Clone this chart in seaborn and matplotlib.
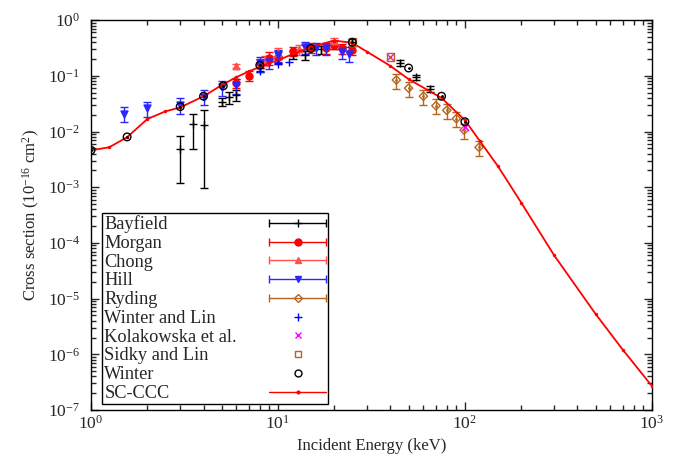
import matplotlib
matplotlib.use("Agg")
import matplotlib.pyplot as plt
import seaborn as sns
import numpy as np
from matplotlib.lines import Line2D
from matplotlib.legend_handler import HandlerBase

# SC-CCC theory curve
ccc_E = [1, 1.25, 1.56, 2, 2.5, 3, 4, 5, 6, 7, 8, 9, 10, 12.5, 15, 20, 25, 30, 40, 50, 75, 100, 120, 150, 200, 300, 500, 700, 1000]
ccc_s = [4.6e-3, 5.2e-3, 7.9e-3, 0.0167, 0.023, 0.027, 0.043, 0.068, 0.095, 0.12, 0.145, 0.17, 0.19, 0.26, 0.33, 0.43, 0.39, 0.27, 0.15, 0.087, 0.04, 0.016, 6.8e-3, 2.4e-3, 5.3e-4, 6e-5, 5.3e-6, 1.2e-6, 2.7e-7]

# experiments
bay_E = [3, 3.5, 4, 5, 5.5, 6, 8, 10, 12, 14, 17, 20, 25, 45, 55, 65]
bay_s = [4.8e-3, 0.0136, 0.013, 0.034, 0.041, 0.045, 0.14, 0.20, 0.24, 0.235, 0.30, 0.36, 0.40, 0.17, 0.095, 0.058]
bay_lo = [1.2e-3, 4.8e-3, 9.6e-4, 0.029, 0.031, 0.035, 0.115, 0.17, 0.20, 0.19, 0.25, 0.30, 0.35, 0.15, 0.085, 0.052]
bay_hi = [8.3e-3, 0.021, 0.024, 0.040, 0.051, 0.056, 0.17, 0.23, 0.28, 0.28, 0.35, 0.42, 0.45, 0.19, 0.105, 0.065]

mor_E = [6, 7, 8, 9, 10, 12, 15, 18, 20, 22, 25]
mor_s = [0.075, 0.10, 0.17, 0.21, 0.22, 0.28, 0.32, 0.31, 0.36, 0.31, 0.29]
mor_rel = [0.18, 0.2, 0.2, 0.25, 0.25, 0.2, 0.2, 0.2, 0.15, 0.2, 0.2]

cho_E = [6, 8.5, 10, 13, 20]
cho_s = [0.15, 0.19, 0.26, 0.30, 0.42]
cho_rel = [0.08, 0.2, 0.2, 0.2, 0.15]

hil_E = [1.5, 2, 3, 4, 5, 6, 8, 9, 10, 14, 16, 18, 22, 24]
hil_s = [0.021, 0.026, 0.030, 0.042, 0.063, 0.068, 0.17, 0.18, 0.235, 0.33, 0.31, 0.31, 0.27, 0.25]
hil_rel = [0.3, 0.3, 0.32, 0.3, 0.3, 0.3, 0.3, 0.25, 0.25, 0.25, 0.25, 0.25, 0.25, 0.3]

ryd_E = [43, 50, 60, 70, 80, 90, 99, 119]
ryd_s = [0.084, 0.06, 0.043, 0.029, 0.024, 0.017, 0.0106, 5.2e-3]
ryd_rel = [0.3, 0.3, 0.3, 0.3, 0.3, 0.3, 0.3, 0.3]

wl_E = [8, 10, 11.5]
wl_s = [0.12, 0.16, 0.18]

kol_E = [40, 100]
kol_s = [0.22, 0.012]

sid_E = [25, 40]
sid_s = [0.40, 0.22]

win_E = [1, 1.56, 3, 4, 5.1, 8, 15, 25, 50, 75, 100]
win_s = [4.6e-3, 8e-3, 0.028, 0.043, 0.066, 0.155, 0.31, 0.40, 0.138, 0.043, 0.015]

brown = "#b5651d"
chong_red = "#ff5050"
hill_blue = "#2828ff"
sns.set_style("ticks")
plt.rcParams["font.family"] = ["Liberation Serif", "DejaVu Serif"]
plt.rcParams["mathtext.fontset"] = "custom"
plt.rcParams["mathtext.rm"] = "Liberation Serif"
plt.rcParams["mathtext.it"] = "Liberation Serif:italic"

fig = plt.figure(figsize=(6.79, 4.68), dpi=100)
ax = fig.add_axes([0.134, 0.124, 0.826, 0.833])


def ebar(E, s, lo, hi, color, marker, ms, mfc=None):
    E = np.array(E); s = np.array(s)
    err = [s - np.array(lo), np.array(hi) - s]
    ax.errorbar(E, s, yerr=err, fmt="none", ecolor=color, elinewidth=1, capsize=3, capthick=1, zorder=3)
    sns.scatterplot(x=E, y=s, marker=marker, s=ms, color=color, edgecolor=color,
                    facecolor=mfc if mfc else color, linewidth=1, ax=ax, zorder=4)


def rel(s, r):
    s = np.array(s); r = np.array(r)
    return s * (1 - r), s * (1 + r)


sns.lineplot(x=ccc_E, y=ccc_s, color="red", lw=1.3, marker="o", markersize=2.5, markeredgewidth=0, ax=ax, zorder=5)

ebar(bay_E, bay_s, bay_lo, bay_hi, "black", "+", 30)
lo, hi = rel(mor_s, mor_rel)
ebar(mor_E, mor_s, lo, hi, "red", "o", 25)
lo, hi = rel(cho_s, cho_rel)
ebar(cho_E, cho_s, lo, hi, chong_red, "^", 22)
lo, hi = rel(hil_s, hil_rel)
ebar(hil_E, hil_s, lo, hi, hill_blue, "v", 25)
lo, hi = rel(ryd_s, ryd_rel)
ebar(ryd_E, ryd_s, lo, hi, brown, "D", 18, mfc="none")
ax.scatter(ryd_E, ryd_s, marker=".", s=4, color=brown, zorder=5)

ax.scatter(wl_E, wl_s, marker="+", s=35, color="blue", linewidths=1, zorder=6)
ax.scatter(kol_E, kol_s, marker="x", s=25, color="magenta", linewidths=1, zorder=6)
ax.scatter(sid_E, sid_s, marker="s", s=30, facecolors="none", edgecolors=brown, linewidths=1, zorder=6)
ax.scatter(sid_E, sid_s, marker=".", s=4, color=brown, zorder=6)
ax.scatter(win_E, win_s, marker="o", s=30, facecolors="none", edgecolors="black", linewidths=1, zorder=6)
ax.scatter(win_E, win_s, marker=".", s=4, color="black", zorder=6)

ax.set_xscale("log")
ax.set_yscale("log")
ax.set_xlim(1, 1000)
ax.set_ylim(1e-7, 1)
ax.set_xlabel("Incident Energy (keV)", fontsize=12)
ax.set_ylabel("Cross section (10$^{-16}$ cm$^{2}$)", fontsize=12)
ax.tick_params(which="both", direction="in", top=True, right=True, labelsize=12.5, width=1)
ax.tick_params(which="major", length=6)
ax.tick_params(which="minor", length=3.5)
ax.tick_params(axis="y", which="major", pad=8)
ax.yaxis.set_major_locator(matplotlib.ticker.LogLocator(base=10, numticks=20))
ax.yaxis.set_minor_locator(matplotlib.ticker.LogLocator(base=10, subs=np.arange(2, 10), numticks=20))
for sp in ax.spines.values():
    sp.set_linewidth(1)
    sp.set_color("black")


class GnuKey(HandlerBase):
    # gnuplot-like key sample: line with caps at both ends, point in the middle
    def create_artists(self, legend, orig, xdescent, ydescent, width, height, fontsize, trans):
        y = height / 2 - ydescent
        x0, x1 = -xdescent, width - xdescent
        col = orig.get_color()
        arts = []
        if orig.get_linestyle() not in ("None", "none", ""):
            arts.append(Line2D([x0, x1], [y, y], color=col, lw=1))
            if orig.get_label() == "bar":
                arts.append(Line2D([x0, x1], [y, y], marker="|", ms=6, color=col, mew=1, ls="none"))
        arts.append(Line2D([(x0 + x1) / 2], [y], marker=orig.get_marker(), ms=orig.get_markersize(), color=col,
                           mfc=orig.get_markerfacecolor(), mew=1, ls="none"))
        for a in arts:
            a.set_transform(trans)
        return arts


def h(color, marker, ms, bar=True, mfc=None, ls="-"):
    return Line2D([], [], color=color, marker=marker, ms=ms, mfc=mfc if mfc else color,
                  ls=ls, label="bar" if bar else "nobar")


handles = [
    h("black", "+", 6),
    h("red", "o", 5),
    h(chong_red, "^", 4.5),
    h(hill_blue, "v", 5),
    h(brown, "D", 4, mfc="none"),
    h("blue", "+", 6, bar=False, ls="none"),
    h("magenta", "x", 5, bar=False, ls="none"),
    h(brown, "s", 5, bar=False, mfc="none", ls="none"),
    h("black", "o", 5, bar=False, mfc="none", ls="none"),
    h("red", ".", 4, bar=False),
]
labels = ["Bayfield", "Morgan", "Chong", "Hill", "Ryding", "Winter and Lin",
          "Kolakowska et al.", "Sidky and Lin", "Winter", "SC-CCC"]
leg = ax.legend(handles, labels, loc="lower left", bbox_to_anchor=(0.02, 0.015), fontsize=13.2,
                markerfirst=False, handler_map={Line2D: GnuKey()}, handlelength=3.1, handletextpad=1.75,
                labelspacing=0.095, borderpad=0.12, borderaxespad=0, fancybox=False, framealpha=1)
leg.get_frame().set_edgecolor("black")
leg.get_frame().set_linewidth(1)

# left-align labels with keys on the right, gnuplot style
fig.canvas.draw()
r = fig.canvas.get_renderer()
widths = [t.get_window_extent(r).width for t in leg.get_texts()]
maxw = max(widths)
rows = leg._legend_handle_box.get_children()[0].get_children()
for row, w in zip(rows, widths):
    row.sep += (maxw - w) * 72.0 / fig.dpi

fig.savefig("out.png", dpi=100)
